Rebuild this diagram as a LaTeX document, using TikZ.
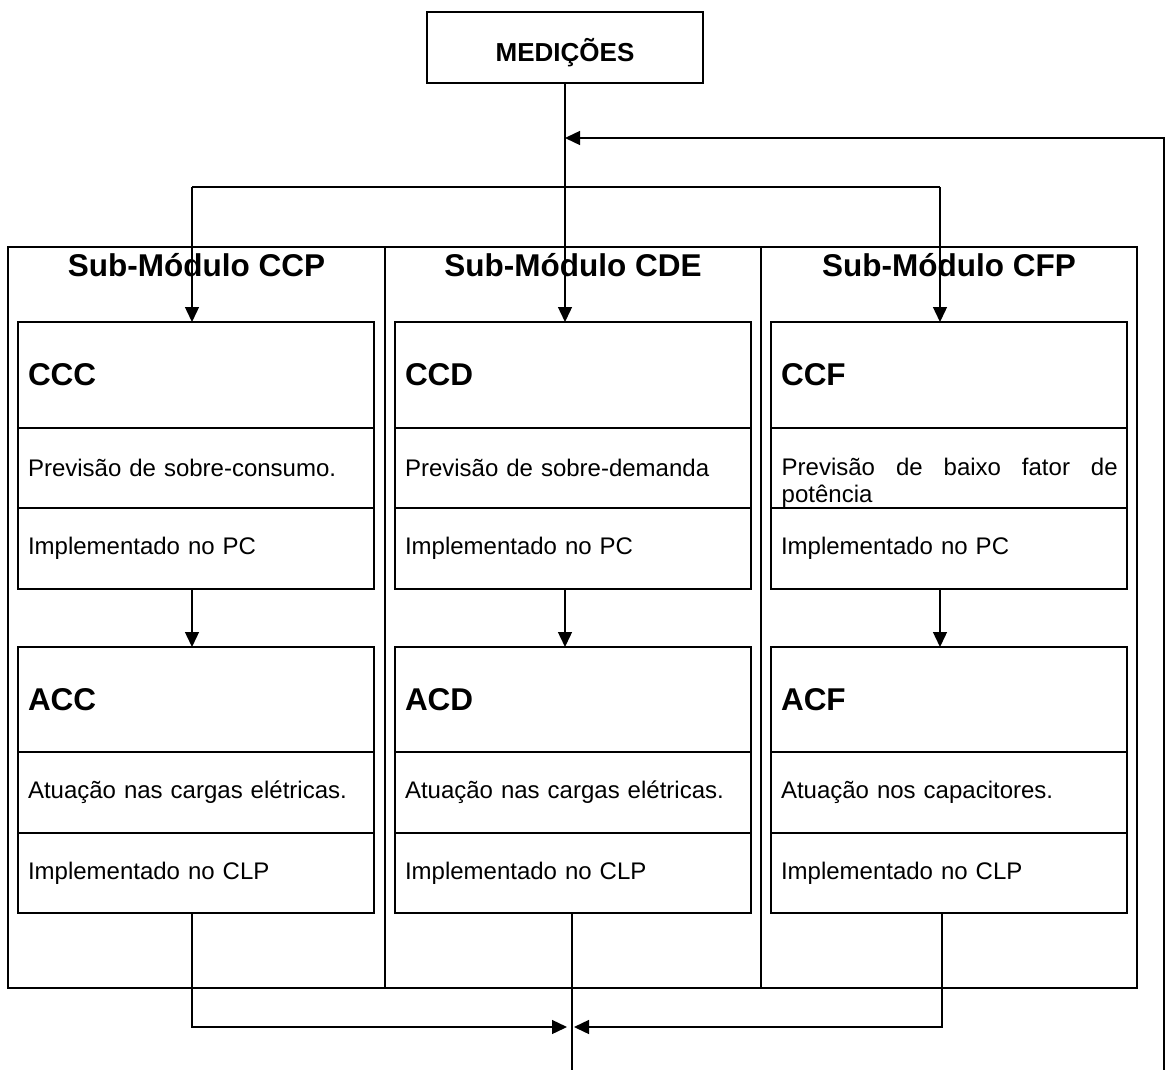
\documentclass[tikz,border=0pt]{standalone}
\usepackage{fontspec}
\setmainfont{Liberation Sans}
\usetikzlibrary{arrows.meta}
\begin{document}
\begin{tikzpicture}[x=1pt,y=-1pt,line width=1.4pt,
  sec/.style={draw, rectangle, anchor=north west, outer sep=0pt,
    minimum width=356pt, text width=336pt, inner xsep=10pt, inner ysep=0pt,
    align=left, font=\fontsize{24}{27}\selectfont},
  headbox/.style={sec, minimum height=106pt, font=\fontsize{31.5}{36}\selectfont\bfseries},
  rowbox/.style={sec, minimum height=81pt},
  title/.style={anchor=base, inner sep=0pt, font=\fontsize{31.5}{36}\selectfont\bfseries},
  arr/.style={-{Triangle[length=15pt,width=14pt]}},
]
\useasboundingbox (0,0) rectangle (1170,1070);

% measurement source
\node[draw, anchor=base, minimum width=276pt, inner sep=0pt,
      text height=50pt, text depth=21pt, font=\fontsize{26}{30}\selectfont\bfseries]
      (med) at (565,62) {MEDIÇÕES};

% frame holding the three sub-modules
\node[draw, anchor=north west, outer sep=0pt, minimum width=1129pt, minimum height=741pt] (frame) at (8,247) {};
\draw (385,247) -- (385,988);
\draw (761,247) -- (761,988);

\node[title] (t1) at (196.5,276) {Sub-Módulo CCP};
\node[title] (t2) at (573,276) {Sub-Módulo CDE};
\node[title] (t3) at (949,276) {Sub-Módulo CFP};

% CCP column
\node[headbox] (ccc) at (18,322) {CCC};
\node[rowbox, minimum height=80pt] (ccc1) at (ccc.south west) {Previsão de sobre-consumo.};
\node[rowbox] (ccc2) at (ccc1.south west) {Implementado no PC};
\node[headbox, minimum height=105pt] (acc) at (18,647) {ACC};
\node[rowbox] (acc1) at (acc.south west) {Atuação nas cargas elétricas.};
\node[rowbox, minimum height=80pt] (acc2) at (acc1.south west) {Implementado no CLP};

% CDE column
\node[headbox] (ccd) at (395,322) {CCD};
\node[rowbox, minimum height=80pt] (ccd1) at (ccd.south west) {Previsão de sobre-demanda};
\node[rowbox] (ccd2) at (ccd1.south west) {Implementado no PC};
\node[headbox, minimum height=105pt] (acd) at (395,647) {ACD};
\node[rowbox] (acd1) at (acd.south west) {Atuação nas cargas elétricas.};
\node[rowbox, minimum height=80pt] (acd2) at (acd1.south west) {Implementado no CLP};

% CFP column (justified two-line text sits low in its row)
\node[headbox] (ccf) at (771,322) {CCF};
\node[rowbox, minimum height=80pt] (ccf1) at (ccf.south west) {};
\node[anchor=base west, inner sep=0pt, align=left, font=\fontsize{24}{27}\selectfont]
  (ccf1txt) at (781,502) {\makebox[336pt][s]{Previsão de baixo fator de}\\potência};
\node[rowbox] (ccf2) at (ccf1.south west) {Implementado no PC};
\node[headbox, minimum height=105pt] (acf) at (771,647) {ACF};
\node[rowbox] (acf1) at (acf.south west) {Atuação nos capacitores.};
\node[rowbox, minimum height=80pt] (acf2) at (acf1.south west) {Implementado no CLP};

% distribution of the measurements
\coordinate (j1) at (192,187);
\coordinate (j3) at (940,187);
\draw[arr] (med.south) -- (med.south |- ccd.north);
\draw (j1) -- (j3);
\draw[arr] (j1) -- (j1 |- ccc.north);
\draw[arr] (j3) -- (j3 |- ccf.north);

% forecast to actuation
\draw[arr] (ccc2.south -| j1) -- (acc.north -| j1);
\draw[arr] (ccd2.south -| med.south) -- (acd.north -| med.south);
\draw[arr] (ccf2.south -| j3) -- (acf.north -| j3);

% feedback returning to the measurement line
\coordinate (fbin) at (1164,1070);
\coordinate (fbtop) at (1164,138);
\draw[arr] (fbin) -- (fbtop) -- (med.south |- fbtop);

% outputs merged below the frame
\coordinate (mL) at (567,1027);
\coordinate (mR) at (574,1027);
\coordinate (out) at (572,1070);
\draw[arr] (acc2.south -| j1) -- (j1 |- mL) -- (mL);
\draw[arr] (942,913) -- (942,1027) -- (mR);
\draw (acd2.south -| out) -- (out);
\end{tikzpicture}
\end{document}
